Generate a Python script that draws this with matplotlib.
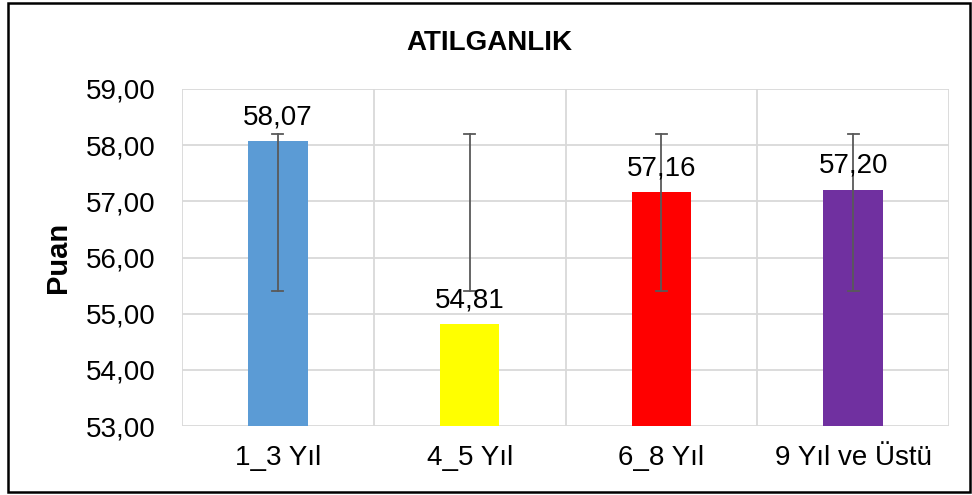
import matplotlib
matplotlib.use("Agg")
import matplotlib.pyplot as plt
from matplotlib.patches import Rectangle

categories = ["1_3 Yıl", "4_5 Yıl", "6_8 Yıl", "9 Yıl ve Üstü"]
scores = [58.07, 54.81, 57.16, 57.20]
err_low = [55.40, 55.40, 55.40, 55.40]
err_high = [58.20, 58.20, 58.20, 58.20]
colors = ["#5B9BD5", "#FFFF00", "#FF0000", "#7030A0"]
yticks = [53, 54, 55, 56, 57, 58, 59]

plt.rcParams["font.family"] = ["Liberation Sans", "DejaVu Sans"]

fig = plt.figure(figsize=(9.72, 4.95), dpi=100)
ax = fig.add_axes([182 / 972, 1 - 426 / 495, (949 - 182) / 972, (426 - 89) / 495])

x = list(range(len(categories)))
ax.bar(x, scores, width=0.31, color=colors, zorder=2)

# error bars: fixed low/high range around each bar's centre
for xi, lo, hi in zip(x, err_low, err_high):
    ax.plot([xi, xi], [lo, hi], color="#595959", lw=1.3, zorder=3)
    ax.plot([xi - 0.029, xi + 0.029], [lo, lo], color="#595959", lw=1.3, zorder=3)
    ax.plot([xi - 0.029, xi + 0.029], [hi, hi], color="#595959", lw=1.3, zorder=3)

for xi, v in zip(x, scores):
    ax.annotate(f"{v:.2f}".replace(".", ","), (xi, v), xytext=(0, 8),
                textcoords="offset points", ha="center", va="bottom",
                fontsize=20, zorder=4)

ax.set_xlim(-0.5, len(categories) - 0.5)
ax.set_ylim(53, 59)
ax.set_yticks(yticks)
ax.set_yticklabels([f"{t:.2f}".replace(".", ",") for t in yticks], fontsize=20)
ax.set_xticks(x)
ax.set_xticklabels(categories, fontsize=20)
ax.tick_params(axis="y", length=0, pad=19)
ax.tick_params(axis="x", length=0, pad=14)

# gridlines: horizontal at ticks, vertical between categories
for t in yticks:
    ax.axhline(t, color="#D9D9D9", lw=1.3, zorder=0)
for b in [i + 0.5 for i in range(-1, len(categories))]:
    ax.axvline(b, color="#D9D9D9", lw=1.3, zorder=0)
for s in ax.spines.values():
    s.set_visible(False)

fig.text(58 / 972, 1 - 257 / 495, "Puan", rotation=90, ha="center", va="center",
         fontsize=21, fontweight="bold")
fig.text(489 / 972, 1 - 43 / 495, "ATILGANLIK", ha="center", va="center",
         fontsize=20, fontweight="bold")

fig.patches.append(Rectangle((8 / 972, 3 / 495), 962 / 972, 489 / 495,
                             transform=fig.transFigure, fill=False,
                             edgecolor="black", lw=1.8))

fig.savefig("out.png", dpi=100)
